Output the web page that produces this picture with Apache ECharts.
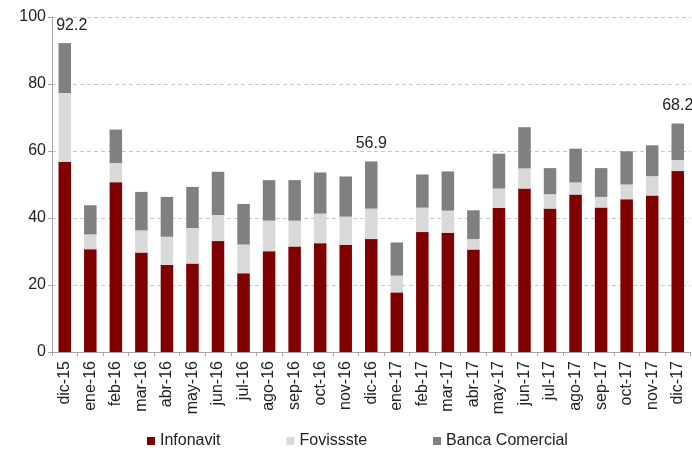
<!DOCTYPE html>
<html>
<head>
<meta charset="utf-8">
<script src="https://cdn.jsdelivr.net/npm/echarts@6/dist/echarts.min.js"></script>
<style>
  html, body { margin: 0; padding: 0; background: #fff; }
  #chart { width: 692px; height: 450px; }
</style>
</head>
<body>
<div id="chart"></div>
<script>
// Monthly housing credit by lender (stacked)
const categories = ['dic-15', 'ene-16', 'feb-16', 'mar-16', 'abr-16', 'may-16', 'jun-16', 'jul-16',
  'ago-16', 'sep-16', 'oct-16', 'nov-16', 'dic-16', 'ene-17', 'feb-17', 'mar-17', 'abr-17',
  'may-17', 'jun-17', 'jul-17', 'ago-17', 'sep-17', 'oct-17', 'nov-17', 'dic-17'];

const infonavit = [56.8, 30.7, 50.7, 29.7, 26.0, 26.4, 33.1, 23.5, 30.1, 31.5, 32.5, 32.0, 33.7,
  17.8, 35.8, 35.6, 30.6, 43.0, 48.8, 42.8, 47.0, 43.1, 45.6, 46.7, 54.0];
const fovissste = [20.5, 4.4, 5.7, 6.6, 8.4, 10.6, 7.8, 8.6, 9.1, 7.7, 8.8, 8.4, 9.1,
  5.0, 7.3, 6.6, 3.1, 5.8, 6.0, 4.3, 3.6, 3.2, 4.4, 5.8, 3.3];
const bancaComercial = [14.9, 8.7, 10.0, 11.5, 11.9, 12.3, 12.9, 12.1, 12.1, 12.1, 12.3, 12.0, 14.1,
  9.9, 9.9, 11.7, 8.6, 10.4, 12.3, 7.8, 10.1, 8.6, 9.9, 9.2, 10.9];

// Months whose stacked total is written above the bar
const labeledMonths = ['dic-15', 'dic-16', 'dic-17'];
const yTicks = [0, 20, 40, 60, 80, 100];

const FONT = "'Liberation Sans', Arial, sans-serif";
const TEXT = '#222';

const totalAt = i => (infonavit[i] + fovissste[i] + bancaComercial[i]).toFixed(1);

const topSeriesData = bancaComercial.map((v, i) => {
  if (!labeledMonths.includes(categories[i])) return v;
  return {
    value: v,
    label: {
      show: true,
      position: 'top',
      distance: 10,
      offset: i === 0 ? [7, 0] : [0, 0],
      formatter: () => totalAt(i),
      fontFamily: FONT,
      fontSize: 16,
      color: TEXT
    }
  };
});

const chart = echarts.init(document.getElementById('chart'), null, { renderer: 'canvas' });

chart.setOption({
  animation: false,
  backgroundColor: '#fff',
  textStyle: { fontFamily: FONT },
  grid: { left: 52, right: 1.5, top: 17, bottom: 98, containLabel: false },
  legend: {
    left: 142,
    top: 428,
    itemWidth: 8,
    itemHeight: 8,
    itemGap: 66,
    icon: 'rect',
    textStyle: { fontFamily: FONT, fontSize: 16, color: TEXT, padding: [0, 0, 0, 0] },
    data: ['Infonavit', 'Fovissste', 'Banca Comercial']
  },
  xAxis: {
    type: 'category',
    data: categories,
    axisLine: { show: true, lineStyle: { color: '#a6a6a6', width: 1 } },
    axisTick: { show: true, inside: false, length: 4, lineStyle: { color: '#a6a6a6' } },
    axisLabel: {
      rotate: 90,
      interval: 0,
      margin: 9,
      fontFamily: FONT,
      fontSize: 16,
      color: TEXT
    },
    splitLine: { show: false }
  },
  yAxis: {
    type: 'value',
    min: yTicks[0],
    max: yTicks[yTicks.length - 1],
    interval: yTicks[1] - yTicks[0],
    axisLine: { show: true, lineStyle: { color: '#a6a6a6', width: 1 } },
    axisTick: { show: true, inside: false, length: 4, lineStyle: { color: '#a6a6a6' } },
    axisLabel: {
      margin: 6,
      fontFamily: FONT,
      fontSize: 16,
      color: TEXT
    },
    splitLine: { show: true, lineStyle: { color: '#c8c8c8', type: [4, 3], width: 1 } }
  },
  series: [
    {
      name: 'Infonavit',
      type: 'bar',
      stack: 'total',
      barWidth: '49%',
      itemStyle: { color: '#800000' },
      data: infonavit
    },
    {
      name: 'Fovissste',
      type: 'bar',
      stack: 'total',
      barWidth: '49%',
      itemStyle: { color: '#d9d9d9' },
      data: fovissste
    },
    {
      name: 'Banca Comercial',
      type: 'bar',
      stack: 'total',
      barWidth: '49%',
      itemStyle: { color: '#808080' },
      data: topSeriesData
    }
  ]
});
</script>
</body>
</html>
